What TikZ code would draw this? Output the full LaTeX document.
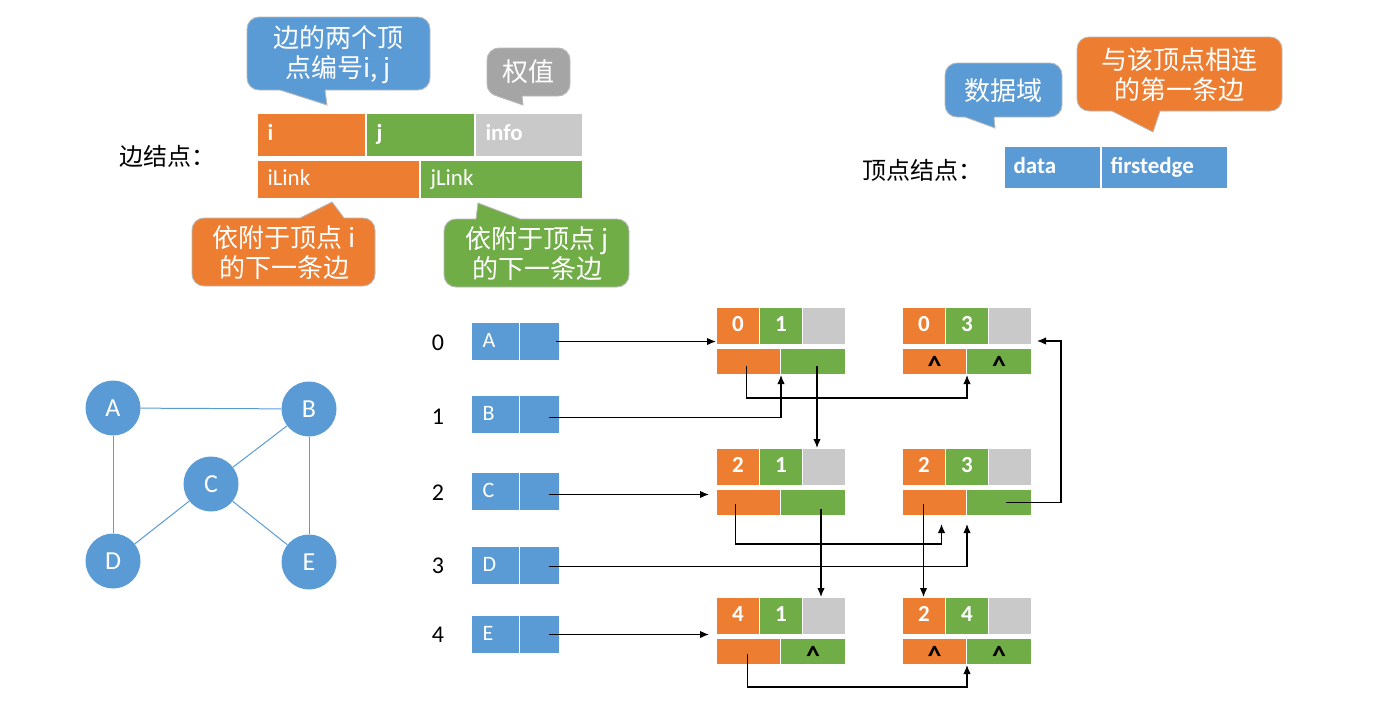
\documentclass[tikz,border=0pt]{standalone}
\usepackage{fontspec}
\setmainfont{Carlito}
\newfontfamily\cjk{Noto Sans CJK SC}
\usetikzlibrary{calc,arrows.meta}
\definecolor{corange}{HTML}{ED7D31}
\definecolor{cgreen}{HTML}{70AD47}
\definecolor{cgray}{HTML}{C9C9C9}
\definecolor{cgrayc}{HTML}{A5A5A5}
\definecolor{cblue}{HTML}{5B9BD5}
\tikzset{
  cell/.style={draw=white, line width=1pt, anchor=north west, inner sep=0pt,
    text=white, text height=15pt, text depth=4pt,
    font=\fontsize{23}{27}\selectfont\bfseries},
  lcell/.style={cell, inner xsep=10pt, align=left},
  cbox/.style={draw=gray!55, line width=0.9pt, rounded corners=12pt},
  cborder/.style={draw=gray!55, line width=0.9pt},
  calltext/.style={text=white, align=center, inner sep=0pt,
    font=\cjk\fontsize{26}{30}\selectfont},
  cntext/.style={text=black, inner sep=0pt, font=\cjk\fontsize{24}{28}\selectfont},
  idx/.style={text=black, inner sep=0pt, font=\fontsize{24}{28}\selectfont},
  vcirc/.style={circle, fill=cblue, minimum size=55pt, inner sep=0pt, text=white,
    font=\fontsize{26}{30}\selectfont},
  gedge/.style={draw=cblue, line width=1pt},
  arr/.style={-{Latex[length=9pt,width=7.5pt]}, line width=1.3pt, black},
}
\newcommand\calldown[9]{%
  \draw[cbox,fill=#1] (#2,#3) rectangle (#4,#5);
  \fill[#1] (#6,#5-2) -- (#6,#5) -- (#7,#8) -- (#9,#5) -- (#9,#5-2) -- cycle;
  \draw[cborder] (#6,#5) -- (#7,#8) -- (#9,#5);}
\newcommand\callup[9]{%
  \draw[cbox,fill=#1] (#2,#3) rectangle (#4,#5);
  \fill[#1] (#6,#3+2) -- (#6,#3) -- (#7,#8) -- (#9,#3) -- (#9,#3+2) -- cycle;
  \draw[cborder] (#6,#3) -- (#7,#8) -- (#9,#3);}
\newcommand\caret{\raisebox{-8pt}{\fontsize{28}{30}\selectfont\textasciicircum}}
\newcommand\edgenode[7]{%
  \node[cell,fill=corange,minimum width=43pt,minimum height=37pt] (#1i) at (#2,#3) {#4};
  \node[cell,fill=cgreen,minimum width=43pt,minimum height=37pt] (#1j) at (#2+43,#3) {#5};
  \node[cell,fill=cgray,minimum width=43pt,minimum height=37pt] (#1w) at (#2+86,#3) {};
  \node[cell,fill=corange,minimum width=64pt,minimum height=26pt,text=black] (#1a) at (#2,#3+41) {#6};
  \node[cell,fill=cgreen,minimum width=65pt,minimum height=26pt,text=black] (#1b) at (#2+64,#3+41) {#7};}
\newcommand\vrow[4]{%
  \node[lcell,fill=cblue,minimum width=48pt,minimum height=38pt,text width=26pt,inner xsep=11pt,
    font=\fontsize{22}{26}\selectfont] (d#1) at (471,#2) {#1};
  \node[cell,fill=cblue,minimum width=40pt,minimum height=38pt] (f#1) at (519,#2) {};
  \node[idx] (n#1) at (438,#3) {#4};}
\begin{document}
\begin{tikzpicture}[x=1pt,y=-1pt]
\useasboundingbox (0,0) rectangle (1381,712);

% ---------- edge node legend ----------
\calldown{cblue}{247}{17}{430}{90}{280}{327}{105}{325}
\node[calltext] (t1) at (338,55) {边的两个顶\\点编号i, j};
\calldown{cgrayc}{487}{48}{570}{96}{497}{523}{105}{522}
\node[calltext] (t2) at (528,72) {权值};

\node[cntext] (lbl1) at (167,156) {边结点：};
\node[lcell,fill=corange,minimum width=108pt,minimum height=43pt,text width=88pt] (li) at (257,113) {i};
\node[lcell,fill=cgreen,minimum width=108pt,minimum height=43pt,text width=88pt] (lj) at (366,113) {j};
\node[lcell,fill=cgray,minimum width=107pt,minimum height=43pt,text width=87pt] (lw) at (475,113) {info};
\node[lcell,fill=corange,minimum width=162pt,minimum height=38pt,text width=142pt,font=\fontsize{23}{27}\selectfont] (la) at (257,160) {iLink};
\node[lcell,fill=cgreen,minimum width=162pt,minimum height=38pt,text width=142pt,font=\fontsize{23}{27}\selectfont] (lb) at (420,160) {jLink};

\callup{corange}{192}{218}{375}{286}{300}{332}{202}{344}
\node[calltext] (t3) at (284,253) {依附于顶点 i\\的下一条边};
\callup{cgreen}{444}{219}{629}{287}{476}{478}{203}{520}
\node[calltext] (t4) at (537,254) {依附于顶点 j\\的下一条边};

% ---------- vertex node legend ----------
\calldown{cblue}{945}{63}{1062}{117}{965}{995}{128}{994}
\node[calltext] (t5) at (1003,91) {数据域};
\calldown{corange}{1077}{37}{1282}{111}{1112}{1153}{132}{1160}
\node[calltext] (t6) at (1179,75) {与该顶点相连\\的第一条边};
\node[cntext] (lbl2) at (922,170) {顶点结点：};
\node[lcell,fill=cblue,minimum width=96pt,minimum height=42pt,text width=78pt,inner xsep=9pt] (vd) at (1004,146) {data};
\node[lcell,fill=cblue,minimum width=126pt,minimum height=42pt,text width=108pt,inner xsep=9pt] (vf) at (1101,146) {firstedge};

% ---------- graph ----------
\node[vcirc] (A) at (113,408) {A};
\node[vcirc] (B) at (309,409) {B};
\node[vcirc] (C) at (211,484) {C};
\node[vcirc] (D) at (113,561) {D};
\node[vcirc] (E) at (309,562) {E};
\draw[gedge] (A) -- (B);
\draw[gedge] (A) -- (D);
\draw[gedge] (B) -- (C);
\draw[gedge] (B) -- (E);
\draw[gedge] (C) -- (D);
\draw[gedge] (C) -- (E);

% ---------- vertex array ----------
\vrow{A}{322}{343}{0}
\vrow{B}{395}{417}{1}
\vrow{C}{472}{493}{2}
\vrow{D}{546}{566}{3}
\vrow{E}{615}{635}{4}

% ---------- edge nodes ----------
\edgenode{e01}{716}{307}{0}{1}{}{}
\edgenode{e03}{902}{307}{0}{3}{\caret}{\caret}
\edgenode{e21}{716}{448}{2}{1}{}{}
\edgenode{e23}{902}{448}{2}{3}{}{}
\edgenode{e41}{716}{597}{4}{1}{}{\caret}
\edgenode{e24}{902}{597}{2}{4}{\caret}{\caret}

% ---------- connectors ----------
\coordinate (sA) at ($(fA.center)+(16,0)$);
\draw[arr] (sA) -- (e01i.west |- sA);

\coordinate (sB) at ($(fB.center)+(9,3)$);
\draw[arr] (sB) -| (e01a.south east);

\coordinate (s01a) at ($(e01a.center)+(-2,4)$);
\coordinate (c03) at (e03a.south east);
\draw[arr] (s01a) |- ($(c03)+(0,23)$) -- (c03);

\coordinate (s01b) at ($(e01b.center)+(4,4)$);
\draw[arr] (s01b) -- (s01b |- e21w.north);

\coordinate (sC) at ($(fC.center)+(9,3)$);
\coordinate (tC) at ($(e21i.west |- sC)+(-7,0)$);
\draw[arr] (sC) -- (tC);

\coordinate (s21a) at ($(e21a.center)+(-13,1)$);
\coordinate (q23) at ($(e23a.south)+(7,8)$);
\draw[arr] (s21a) |- ($(q23)+(0,20)$) -- (q23);

\coordinate (sD) at ($(fD.center)+(9,1)$);
\coordinate (tD) at ($(e23a.south east)+(0,8)$);
\draw[arr] (sD) -| (tD);

\coordinate (s23a) at ($(e23a.center)+(-11,1)$);
\draw[arr] (s23a) -- (s23a |- e24i.north);

\coordinate (s21b) at ($(e21b.center)+(8,6)$);
\draw[arr] (s21b) -- (s21b |- e41w.north);

\coordinate (s23b) at ($(e23b.center)+(7,0)$);
\coordinate (t03) at ($(e03w.east)+(5,15)$);
\draw[arr] (s23b) -| ($(t03)+(24,0)$) -- (t03);

\coordinate (sE) at ($(fE.center)+(9,0)$);
\coordinate (tE) at ($(e41i.west |- sE)+(-7,0)$);
\draw[arr] (sE) -- (tE);

\coordinate (s41a) at ($(e41a.center)+(-1,2)$);
\coordinate (c24) at (e24a.south east);
\draw[arr] (s41a) |- ($(c24)+(0,22)$) -- (c24);
\end{tikzpicture}
\end{document}
